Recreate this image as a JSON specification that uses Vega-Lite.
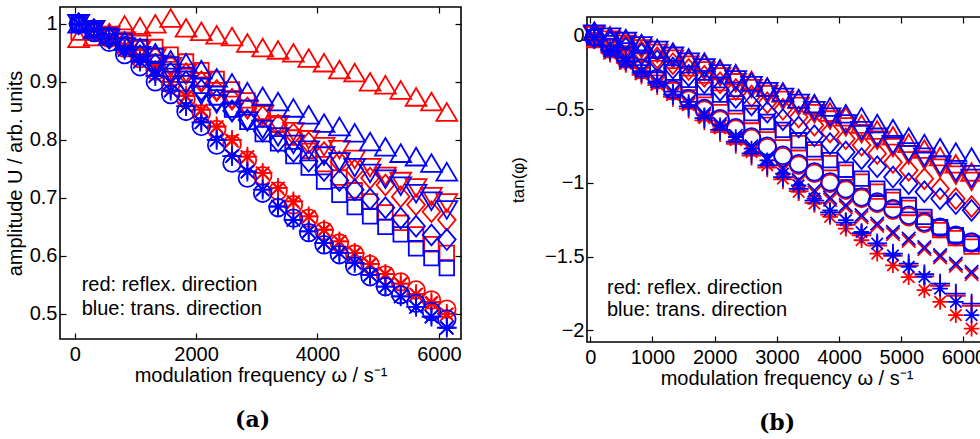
{
"$schema": "https://vega.github.io/schema/vega-lite/v6.json",
"background": "white",
"padding": {"left": 4, "top": 4, "right": 0, "bottom": 0},
"spacing": 45,
"config": {
  "font": "Liberation Sans",
  "view": {"stroke": "black", "strokeWidth": 1.6},
  "axis": {"grid": false, "domain": false, "ticks": true, "tickColor": "black", "tickSize": -6, "tickWidth": 1.2,
           "labelFont": "Liberation Sans", "labelFontSize": 20, "labelColor": "black", "labelPadding": 9, "labelFlush": false, "labelOverlap": false,
           "titleFont": "Liberation Sans", "titleFontSize": 20, "titleFontWeight": "normal", "titleColor": "black"}
},
"datasets": {
"amp": [
{"w":65,"R1":0.975,"R2":1.0,"R3":1.0,"R4":0.985,"R5":1.0,"R6":1.0,"R7":1.0,"R8":1.0,"T1":1.0,"T2":1.0,"T3":1.0,"T4":1.0,"T5":1.0,"T6":1.0,"T7":1.0,"T8":1.0},
{"w":318,"R1":0.978,"R2":0.99,"R3":0.99,"R4":0.985,"R5":0.988,"R6":0.989,"R7":0.99,"R8":0.99,"T1":0.99,"T2":0.99,"T3":0.99,"T4":0.99,"T5":0.985,"T6":0.99,"T7":0.99,"T8":0.99},
{"w":570,"R1":0.985,"R2":0.98,"R3":0.98,"R4":0.982,"R5":0.975,"R6":0.977,"R7":0.978,"R8":0.978,"T1":0.98,"T2":0.975,"T3":0.975,"T4":0.98,"T5":0.968,"T6":0.975,"T7":0.975,"T8":0.975},
{"w":823,"R1":0.998,"R2":0.97,"R3":0.968,"R4":0.978,"R5":0.958,"R6":0.961,"R7":0.962,"R8":0.962,"T1":0.97,"T2":0.96,"T3":0.96,"T4":0.97,"T5":0.947,"T6":0.955,"T7":0.955,"T8":0.955},
{"w":1076,"R1":0.995,"R2":0.955,"R3":0.955,"R4":0.97,"R5":0.94,"R6":0.942,"R7":0.943,"R8":0.943,"T1":0.959,"T2":0.945,"T3":0.945,"T4":0.96,"T5":0.926,"T6":0.935,"T7":0.935,"T8":0.935},
{"w":1328,"R1":1.0,"R2":0.941,"R3":0.942,"R4":0.96,"R5":0.918,"R6":0.919,"R7":0.92,"R8":0.921,"T1":0.95,"T2":0.93,"T3":0.93,"T4":0.945,"T5":0.9,"T6":0.91,"T7":0.91,"T8":0.91},
{"w":1581,"R1":1.01,"R2":0.926,"R3":0.928,"R4":0.947,"R5":0.895,"R6":0.898,"R7":0.9,"R8":0.9,"T1":0.938,"T2":0.915,"T3":0.915,"T4":0.93,"T5":0.878,"T6":0.885,"T7":0.885,"T8":0.885},
{"w":1834,"R1":0.993,"R2":0.915,"R3":0.914,"R4":0.935,"R5":0.87,"R6":0.874,"R7":0.876,"R8":0.876,"T1":0.933,"T2":0.895,"T3":0.9,"T4":0.912,"T5":0.849,"T6":0.858,"T7":0.858,"T8":0.858},
{"w":2086,"R1":0.987,"R2":0.9,"R3":0.9,"R4":0.92,"R5":0.845,"R6":0.85,"R7":0.852,"R8":0.852,"T1":0.921,"T2":0.877,"T3":0.886,"T4":0.893,"T5":0.823,"T6":0.83,"T7":0.83,"T8":0.83},
{"w":2339,"R1":0.981,"R2":0.883,"R3":0.885,"R4":0.905,"R5":0.818,"R6":0.822,"R7":0.823,"R8":0.823,"T1":0.907,"T2":0.862,"T3":0.868,"T4":0.873,"T5":0.791,"T6":0.8,"T7":0.8,"T8":0.8},
{"w":2592,"R1":0.978,"R2":0.869,"R3":0.87,"R4":0.887,"R5":0.792,"R6":0.798,"R7":0.8,"R8":0.8,"T1":0.898,"T2":0.847,"T3":0.85,"T4":0.852,"T5":0.76,"T6":0.772,"T7":0.772,"T8":0.772},
{"w":2845,"R1":0.967,"R2":0.852,"R3":0.855,"R4":0.868,"R5":0.765,"R6":0.77,"R7":0.771,"R8":0.771,"T1":0.883,"T2":0.832,"T3":0.834,"T4":0.831,"T5":0.734,"T6":0.745,"T7":0.745,"T8":0.745},
{"w":3097,"R1":0.959,"R2":0.843,"R3":0.84,"R4":0.848,"R5":0.738,"R6":0.742,"R7":0.743,"R8":0.743,"T1":0.875,"T2":0.818,"T3":0.815,"T4":0.81,"T5":0.708,"T6":0.714,"T7":0.714,"T8":0.714},
{"w":3350,"R1":0.955,"R2":0.826,"R3":0.825,"R4":0.826,"R5":0.712,"R6":0.716,"R7":0.717,"R8":0.717,"T1":0.866,"T2":0.805,"T3":0.797,"T4":0.794,"T5":0.683,"T6":0.685,"T7":0.685,"T8":0.685},
{"w":3603,"R1":0.95,"R2":0.814,"R3":0.81,"R4":0.804,"R5":0.688,"R6":0.692,"R7":0.694,"R8":0.694,"T1":0.855,"T2":0.792,"T3":0.78,"T4":0.772,"T5":0.665,"T6":0.662,"T7":0.662,"T8":0.662},
{"w":3855,"R1":0.941,"R2":0.8,"R3":0.795,"R4":0.781,"R5":0.665,"R6":0.667,"R7":0.668,"R8":0.668,"T1":0.843,"T2":0.782,"T3":0.763,"T4":0.752,"T5":0.64,"T6":0.642,"T7":0.642,"T8":0.642},
{"w":4108,"R1":0.933,"R2":0.788,"R3":0.778,"R4":0.758,"R5":0.643,"R6":0.644,"R7":0.645,"R8":0.645,"T1":0.829,"T2":0.772,"T3":0.747,"T4":0.728,"T5":0.619,"T6":0.622,"T7":0.622,"T8":0.622},
{"w":4361,"R1":0.921,"R2":0.783,"R3":0.762,"R4":0.735,"R5":0.622,"R6":0.624,"R7":0.625,"R8":0.625,"T1":0.823,"T2":0.762,"T3":0.73,"T4":0.705,"T5":0.602,"T6":0.605,"T7":0.605,"T8":0.605},
{"w":4613,"R1":0.916,"R2":0.766,"R3":0.748,"R4":0.713,"R5":0.603,"R6":0.604,"R7":0.605,"R8":0.605,"T1":0.812,"T2":0.752,"T3":0.714,"T4":0.684,"T5":0.582,"T6":0.588,"T7":0.588,"T8":0.588},
{"w":4866,"R1":0.9,"R2":0.752,"R3":0.734,"R4":0.694,"R5":0.585,"R6":0.585,"R7":0.586,"R8":0.586,"T1":0.797,"T2":0.742,"T3":0.698,"T4":0.668,"T5":0.564,"T6":0.567,"T7":0.567,"T8":0.567},
{"w":5119,"R1":0.895,"R2":0.737,"R3":0.722,"R4":0.675,"R5":0.567,"R6":0.568,"R7":0.569,"R8":0.569,"T1":0.788,"T2":0.732,"T3":0.683,"T4":0.65,"T5":0.547,"T6":0.547,"T7":0.547,"T8":0.547},
{"w":5371,"R1":0.886,"R2":0.728,"R3":0.702,"R4":0.657,"R5":0.555,"R6":0.551,"R7":0.552,"R8":0.552,"T1":0.777,"T2":0.72,"T3":0.665,"T4":0.637,"T5":0.533,"T6":0.53,"T7":0.53,"T8":0.53},
{"w":5624,"R1":0.874,"R2":0.717,"R3":0.688,"R4":0.637,"R5":0.541,"R6":0.533,"R7":0.534,"R8":0.534,"T1":0.771,"T2":0.707,"T3":0.651,"T4":0.613,"T5":0.518,"T6":0.512,"T7":0.512,"T8":0.512},
{"w":5877,"R1":0.866,"R2":0.702,"R3":0.676,"R4":0.62,"R5":0.524,"R6":0.518,"R7":0.52,"R8":0.52,"T1":0.76,"T2":0.694,"T3":0.636,"T4":0.596,"T5":0.504,"T6":0.495,"T7":0.495,"T8":0.495},
{"w":6130,"R1":0.848,"R2":0.691,"R3":0.662,"R4":0.605,"R5":0.508,"R6":0.499,"R7":0.5,"R8":0.5,"T1":0.745,"T2":0.679,"T3":0.628,"T4":0.579,"T5":0.491,"T6":0.476,"T7":0.476,"T8":0.476}
],
"ph": [
{"w":65,"R1":0.03,"R2":0.0,"R3":-0.01,"R4":-0.03,"R5":-0.02,"R6":-0.025,"R7":-0.025,"R8":-0.02,"T1":0.03,"T2":0.01,"T3":-0.01,"T4":-0.01,"T5":-0.01,"T6":-0.01,"T7":-0.01,"T8":-0.01},
{"w":318,"R1":0.0,"R2":-0.03,"R3":-0.04,"R4":-0.07,"R5":-0.09,"R6":-0.115,"R7":-0.115,"R8":-0.12,"T1":-0.01,"T2":-0.01,"T3":-0.045,"T4":-0.05,"T5":-0.08,"T6":-0.1,"T7":-0.1,"T8":-0.11},
{"w":570,"R1":-0.03,"R2":-0.06,"R3":-0.07,"R4":-0.12,"R5":-0.16,"R6":-0.185,"R7":-0.185,"R8":-0.19,"T1":-0.02,"T2":-0.04,"T3":-0.085,"T4":-0.1,"T5":-0.15,"T6":-0.17,"T7":-0.17,"T8":-0.18},
{"w":823,"R1":-0.06,"R2":-0.09,"R3":-0.11,"R4":-0.17,"R5":-0.23,"R6":-0.255,"R7":-0.265,"R8":-0.26,"T1":-0.054,"T2":-0.07,"T3":-0.125,"T4":-0.15,"T5":-0.22,"T6":-0.24,"T7":-0.25,"T8":-0.24},
{"w":1076,"R1":-0.09,"R2":-0.12,"R3":-0.15,"R4":-0.22,"R5":-0.3,"R6":-0.325,"R7":-0.335,"R8":-0.33,"T1":-0.088,"T2":-0.1,"T3":-0.17,"T4":-0.2,"T5":-0.29,"T6":-0.31,"T7":-0.32,"T8":-0.31},
{"w":1328,"R1":-0.12,"R2":-0.16,"R3":-0.19,"R4":-0.27,"R5":-0.375,"R6":-0.395,"R7":-0.415,"R8":-0.4,"T1":-0.111,"T2":-0.14,"T3":-0.22,"T4":-0.25,"T5":-0.365,"T6":-0.38,"T7":-0.4,"T8":-0.38},
{"w":1581,"R1":-0.16,"R2":-0.2,"R3":-0.23,"R4":-0.32,"R5":-0.438,"R6":-0.465,"R7":-0.495,"R8":-0.47,"T1":-0.15,"T2":-0.18,"T3":-0.27,"T4":-0.3,"T5":-0.428,"T6":-0.45,"T7":-0.48,"T8":-0.45},
{"w":1834,"R1":-0.19,"R2":-0.24,"R3":-0.275,"R4":-0.37,"R5":-0.505,"R6":-0.545,"R7":-0.575,"R8":-0.56,"T1":-0.179,"T2":-0.22,"T3":-0.32,"T4":-0.35,"T5":-0.495,"T6":-0.53,"T7":-0.56,"T8":-0.54},
{"w":2086,"R1":-0.235,"R2":-0.28,"R3":-0.32,"R4":-0.42,"R5":-0.573,"R6":-0.615,"R7":-0.655,"R8":-0.63,"T1":-0.224,"T2":-0.26,"T3":-0.37,"T4":-0.4,"T5":-0.563,"T6":-0.6,"T7":-0.64,"T8":-0.608},
{"w":2339,"R1":-0.27,"R2":-0.32,"R3":-0.365,"R4":-0.48,"R5":-0.635,"R6":-0.695,"R7":-0.735,"R8":-0.71,"T1":-0.258,"T2":-0.3,"T3":-0.42,"T4":-0.46,"T5":-0.625,"T6":-0.68,"T7":-0.72,"T8":-0.688},
{"w":2592,"R1":-0.303,"R2":-0.36,"R3":-0.41,"R4":-0.545,"R5":-0.698,"R6":-0.765,"R7":-0.815,"R8":-0.79,"T1":-0.314,"T2":-0.34,"T3":-0.47,"T4":-0.525,"T5":-0.688,"T6":-0.75,"T7":-0.8,"T8":-0.767},
{"w":2845,"R1":-0.35,"R2":-0.4,"R3":-0.455,"R4":-0.606,"R5":-0.76,"R6":-0.845,"R7":-0.895,"R8":-0.88,"T1":-0.348,"T2":-0.38,"T3":-0.52,"T4":-0.586,"T5":-0.75,"T6":-0.83,"T7":-0.88,"T8":-0.846},
{"w":3097,"R1":-0.39,"R2":-0.44,"R3":-0.5,"R4":-0.66,"R5":-0.822,"R6":-0.915,"R7":-0.975,"R8":-0.97,"T1":-0.382,"T2":-0.42,"T3":-0.57,"T4":-0.64,"T5":-0.812,"T6":-0.9,"T7":-0.96,"T8":-0.937},
{"w":3350,"R1":-0.43,"R2":-0.48,"R3":-0.552,"R4":-0.73,"R5":-0.879,"R6":-0.995,"R7":-1.055,"R8":-1.06,"T1":-0.428,"T2":-0.46,"T3":-0.62,"T4":-0.71,"T5":-0.869,"T6":-0.98,"T7":-1.04,"T8":-1.016},
{"w":3603,"R1":-0.47,"R2":-0.53,"R3":-0.608,"R4":-0.792,"R5":-0.935,"R6":-1.065,"R7":-1.135,"R8":-1.14,"T1":-0.461,"T2":-0.51,"T3":-0.68,"T4":-0.772,"T5":-0.925,"T6":-1.05,"T7":-1.12,"T8":-1.107},
{"w":3855,"R1":-0.518,"R2":-0.573,"R3":-0.654,"R4":-0.865,"R5":-1.003,"R6":-1.115,"R7":-1.215,"R8":-1.23,"T1":-0.484,"T2":-0.553,"T3":-0.733,"T4":-0.845,"T5":-0.993,"T6":-1.1,"T7":-1.2,"T8":-1.186},
{"w":4108,"R1":-0.55,"R2":-0.62,"R3":-0.7,"R4":-0.93,"R5":-1.049,"R6":-1.165,"R7":-1.285,"R8":-1.31,"T1":-0.53,"T2":-0.6,"T3":-0.79,"T4":-0.91,"T5":-1.039,"T6":-1.15,"T7":-1.27,"T8":-1.253},
{"w":4361,"R1":-0.6,"R2":-0.665,"R3":-0.744,"R4":-0.991,"R5":-1.105,"R6":-1.234,"R7":-1.355,"R8":-1.389,"T1":-0.552,"T2":-0.645,"T3":-0.835,"T4":-0.971,"T5":-1.095,"T6":-1.219,"T7":-1.34,"T8":-1.333},
{"w":4613,"R1":-0.64,"R2":-0.71,"R3":-0.8,"R4":-1.059,"R5":-1.139,"R6":-1.291,"R7":-1.425,"R8":-1.48,"T1":-0.597,"T2":-0.69,"T3":-0.89,"T4":-1.039,"T5":-1.129,"T6":-1.276,"T7":-1.41,"T8":-1.412},
{"w":4866,"R1":-0.68,"R2":-0.76,"R3":-0.86,"R4":-1.115,"R5":-1.185,"R6":-1.348,"R7":-1.495,"R8":-1.559,"T1":-0.631,"T2":-0.74,"T3":-0.96,"T4":-1.095,"T5":-1.175,"T6":-1.333,"T7":-1.48,"T8":-1.491},
{"w":5119,"R1":-0.73,"R2":-0.81,"R3":-0.914,"R4":-1.17,"R5":-1.229,"R6":-1.393,"R7":-1.563,"R8":-1.64,"T1":-0.688,"T2":-0.79,"T3":-1.005,"T4":-1.15,"T5":-1.219,"T6":-1.378,"T7":-1.548,"T8":-1.57},
{"w":5371,"R1":-0.77,"R2":-0.845,"R3":-0.971,"R4":-1.25,"R5":-1.275,"R6":-1.45,"R7":-1.635,"R8":-1.728,"T1":-0.733,"T2":-0.825,"T3":-1.06,"T4":-1.23,"T5":-1.265,"T6":-1.435,"T7":-1.62,"T8":-1.638},
{"w":5624,"R1":-0.82,"R2":-0.9,"R3":-1.039,"R4":-1.32,"R5":-1.31,"R6":-1.506,"R7":-1.698,"R8":-1.808,"T1":-0.76,"T2":-0.88,"T3":-1.107,"T4":-1.3,"T5":-1.3,"T6":-1.491,"T7":-1.683,"T8":-1.718},
{"w":5877,"R1":-0.87,"R2":-0.947,"R3":-1.107,"R4":-1.375,"R5":-1.365,"R6":-1.563,"R7":-1.766,"R8":-1.898,"T1":-0.79,"T2":-0.927,"T3":-1.14,"T4":-1.355,"T5":-1.355,"T6":-1.548,"T7":-1.751,"T8":-1.808},
{"w":6130,"R1":-0.925,"R2":-0.99,"R3":-1.16,"R4":-1.432,"R5":-1.41,"R6":-1.619,"R7":-1.835,"R8":-1.989,"T1":-0.824,"T2":-0.97,"T3":-1.186,"T4":-1.412,"T5":-1.4,"T6":-1.604,"T7":-1.82,"T8":-1.898}
]
},
"hconcat": [
{
  "width": 401, "height": 332,
  "title": {"text": "(a)", "orient": "bottom", "font": "DejaVu Serif", "fontWeight": "bold", "fontSize": 22, "color": "black", "frame": "group", "anchor": "middle", "dx": -8, "offset": 25},
  "layer": [
    {
      "data": {"name": "amp"},
      "transform": [{"fold": ["R1","R2","R3","R4","R5","R6","R7","R8","T1","T2","T3","T4","T5","T6","T7","T8"], "as": ["key","val"]}],
      "mark": {"type": "point", "filled": false, "strokeWidth": 1.8, "size": 108, "opacity": 1},
      "encoding": {
        "x": {"field": "w", "type": "quantitative", "scale": {"domain": [-242, 6364], "nice": false, "zero": false},
              "axis": {"orient": "bottom", "values": [0,2000,4000,6000], "format": "d", "labelPadding": 11, "titlePadding": 1, "title": "modulation frequency ω  / s⁻¹"}},
        "y": {"field": "val", "type": "quantitative", "scale": {"domain": [0.4566, 1.029], "nice": false, "zero": false},
              "axis": {"orient": "left", "values": [0.5,0.6,0.7,0.8,0.9,1], "format": "~g", "titlePadding": 4, "title": "amplitude U / arb. units"}},
        "color": {"field": "key", "type": "nominal", "legend": null,
                  "scale": {"domain": ["R1","R2","R3","R4","R5","R6","R7","R8","T1","T2","T3","T4","T5","T6","T7","T8"],
                            "range": ["#ff0000","#ff0000","#ff0000","#ff0000","#ff0000","#ff0000","#ff0000","#ff0000","#0000ff","#0000ff","#0000ff","#0000ff","#0000ff","#0000ff","#0000ff","#0000ff"]}},
        "shape": {"field": "key", "type": "nominal", "legend": null,
                  "scale": {"domain": ["R1","R2","R3","R4","R5","R6","R7","R8","T1","T2","T3","T4","T5","T6","T7","T8"],
                            "range": ["M0,-1.7L2,1.7L-2,1.7Z","M0,1.7L2,-1.7L-2,-1.7Z","M0,-2L1.7,0L0,2L-1.7,0Z","M-1.4,-1.4L1.4,-1.4L1.4,1.4L-1.4,1.4Z","M-1.7,0A1.7,1.7,0,1,1,1.7,0A1.7,1.7,0,1,1,-1.7,0Z","M-1.3,-1.3L1.3,1.3M-1.3,1.3L1.3,-1.3","M-1.9,0L1.9,0M0,-1.9L0,1.9","M-1.5,0L1.5,0M0,-1.5L0,1.5M-1.1,-1.1L1.1,1.1M-1.1,1.1L1.1,-1.1",
                                      "M0,-1.7L2,1.7L-2,1.7Z","M0,1.7L2,-1.7L-2,-1.7Z","M0,-2L1.7,0L0,2L-1.7,0Z","M-1.4,-1.4L1.4,-1.4L1.4,1.4L-1.4,1.4Z","M-1.7,0A1.7,1.7,0,1,1,1.7,0A1.7,1.7,0,1,1,-1.7,0Z","M-1.3,-1.3L1.3,1.3M-1.3,1.3L1.3,-1.3","M-1.9,0L1.9,0M0,-1.9L0,1.9","M-1.5,0L1.5,0M0,-1.5L0,1.5M-1.1,-1.1L1.1,1.1M-1.1,1.1L1.1,-1.1"]}},
        "order": {"field": "key", "type": "nominal"}
      }
    },
    {
      "data": {"values": [{"tx": 115, "ty": 0.540, "label": "red: reflex. direction"}, {"tx": 115, "ty": 0.498, "label": "blue: trans. direction"}]},
      "mark": {"type": "text", "align": "left", "baseline": "alphabetic", "fontSize": 20, "font": "Liberation Sans", "color": "black"},
      "encoding": {
        "x": {"field": "tx", "type": "quantitative", "axis": {"orient": "top", "labels": false, "title": null, "values": [0,2000,4000,6000]}},
        "y": {"field": "ty", "type": "quantitative", "axis": {"orient": "right", "labels": false, "title": null, "values": [0.5,0.6,0.7,0.8,0.9,1]}},
        "text": {"field": "label"}
      }
    }
  ],
  "resolve": {"axis": {"x": "independent", "y": "independent"}}
},
{
  "spacing": 7,
  "vconcat": [
    {
      "width": 1, "height": 1,
      "view": {"stroke": null},
      "data": {"values": [{"s": 0}]},
      "mark": {"type": "point", "opacity": 0, "size": 0, "strokeWidth": 0}
    },
    {
      "width": 399, "height": 325,
      "title": {"text": "(b)", "orient": "bottom", "font": "DejaVu Serif", "fontWeight": "bold", "fontSize": 22, "color": "black", "frame": "group", "anchor": "middle", "dx": -9.5, "offset": 25},
      "layer": [
        {
          "data": {"name": "ph"},
          "transform": [{"fold": ["R1","R2","R3","R4","R5","R6","R7","R8","T1","T2","T3","T4","T5","T6","T7","T8"], "as": ["key","val"]}],
          "mark": {"type": "point", "filled": false, "strokeWidth": 1.8, "size": 108, "opacity": 1},
          "encoding": {
            "x": {"field": "w", "type": "quantitative", "scale": {"domain": [-53, 6362], "nice": false, "zero": false},
                  "axis": {"orient": "bottom", "values": [0,1000,2000,3000,4000,5000,6000], "format": "d", "labelPadding": 11, "titlePadding": 1, "title": "modulation frequency ω  / s⁻¹"}},
            "y": {"field": "val", "type": "quantitative", "scale": {"domain": [-2.08, 0.127], "nice": false, "zero": false},
                  "axis": {"orient": "left", "values": [-2,-1.5,-1,-0.5,0], "format": "~g", "titlePadding": 17, "titleFontSize": 17, "title": "tan(φ)"}},
            "color": {"field": "key", "type": "nominal", "legend": null,
                      "scale": {"domain": ["R1","R2","R3","R4","R5","R6","R7","R8","T1","T2","T3","T4","T5","T6","T7","T8"],
                                "range": ["#ff0000","#ff0000","#ff0000","#ff0000","#ff0000","#ff0000","#ff0000","#ff0000","#0000ff","#0000ff","#0000ff","#0000ff","#0000ff","#0000ff","#0000ff","#0000ff"]}},
            "shape": {"field": "key", "type": "nominal", "legend": null,
                      "scale": {"domain": ["R1","R2","R3","R4","R5","R6","R7","R8","T1","T2","T3","T4","T5","T6","T7","T8"],
                                "range": ["M0,-1.7L2,1.7L-2,1.7Z","M0,1.7L2,-1.7L-2,-1.7Z","M0,-2L1.7,0L0,2L-1.7,0Z","M-1.4,-1.4L1.4,-1.4L1.4,1.4L-1.4,1.4Z","M-1.7,0A1.7,1.7,0,1,1,1.7,0A1.7,1.7,0,1,1,-1.7,0Z","M-1.3,-1.3L1.3,1.3M-1.3,1.3L1.3,-1.3","M-1.9,0L1.9,0M0,-1.9L0,1.9","M-1.5,0L1.5,0M0,-1.5L0,1.5M-1.1,-1.1L1.1,1.1M-1.1,1.1L1.1,-1.1",
                                          "M0,-1.7L2,1.7L-2,1.7Z","M0,1.7L2,-1.7L-2,-1.7Z","M0,-2L1.7,0L0,2L-1.7,0Z","M-1.4,-1.4L1.4,-1.4L1.4,1.4L-1.4,1.4Z","M-1.7,0A1.7,1.7,0,1,1,1.7,0A1.7,1.7,0,1,1,-1.7,0Z","M-1.3,-1.3L1.3,1.3M-1.3,1.3L1.3,-1.3","M-1.9,0L1.9,0M0,-1.9L0,1.9","M-1.5,0L1.5,0M0,-1.5L0,1.5M-1.1,-1.1L1.1,1.1M-1.1,1.1L1.1,-1.1"]}},
            "order": {"field": "key", "type": "nominal"}
          }
        },
        {
          "data": {"values": [{"tx": 268, "ty": -1.756, "label": "red: reflex. direction"}, {"tx": 268, "ty": -1.905, "label": "blue: trans. direction"}]},
          "mark": {"type": "text", "align": "left", "baseline": "alphabetic", "fontSize": 20, "font": "Liberation Sans", "color": "black"},
          "encoding": {
            "x": {"field": "tx", "type": "quantitative", "axis": {"orient": "top", "labels": false, "title": null, "values": [0,1000,2000,3000,4000,5000,6000]}},
            "y": {"field": "ty", "type": "quantitative", "axis": {"orient": "right", "labels": false, "title": null, "values": [-2,-1.5,-1,-0.5,0]}},
            "text": {"field": "label"}
          }
        }
      ],
      "resolve": {"axis": {"x": "independent", "y": "independent"}}
    }
  ]
}
]
}
